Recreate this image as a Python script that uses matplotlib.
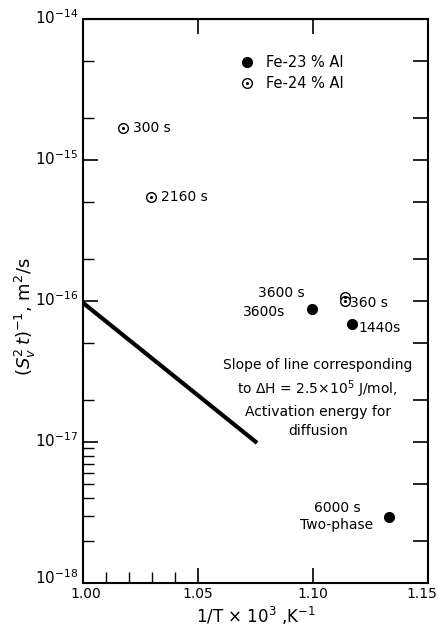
import matplotlib
matplotlib.use('Agg')
import matplotlib.pyplot as plt
import matplotlib.transforms as mtransforms
from matplotlib.lines import Line2D
from matplotlib.legend_handler import HandlerTuple
from matplotlib.ticker import FixedLocator, NullFormatter

# Fe-23 % Al (filled)
fe23_x = [1.0996, 1.1170, 1.1330]
fe23_y = [8.8e-17, 6.9e-17, 2.95e-18]
# Fe-24 % Al (open, dotted centre)
fe24_x = [1.0174, 1.0296, 1.1139, 1.1139]
fe24_y = [1.69e-15, 5.47e-16, 1.07e-16, 1.0e-16]

# activation energy line
line_x = [1.000, 1.0757]
line_y = [9.7e-17, 9.85e-18]

x_ticks = [1.00, 1.05, 1.10, 1.15]
x_tick_labels = ['1.00', '1.05', '1.10', '1.15']
y_ticks = [1e-18, 1e-17, 1e-16, 1e-15, 1e-14]
y_tick_labels = [r'$10^{-18}$', r'$10^{-17}$', r'$10^{-16}$', r'$10^{-15}$', r'$10^{-14}$']

plt.rcParams['font.family'] = ['DejaVu Sans']
plt.rcParams['mathtext.fontset'] = 'dejavusans'

fig = plt.figure(figsize=(4.38, 6.32), dpi=100)
ax = fig.add_axes([0.1895, 0.0775, 0.977 - 0.1895, 0.970 - 0.0775])
ax.set_yscale('log')
ax.set_xlim(1.00, 1.15)
ax.set_ylim(1e-18, 1e-14)

for s in ax.spines.values():
    s.set_linewidth(1.5)

# data
ax.plot(line_x, line_y, color='black', lw=3.0, solid_capstyle='butt')
ax.plot(fe23_x, fe23_y, 'o', color='black', ms=7)
ax.plot(fe24_x, fe24_y, 'o', mfc='white', mec='black', mew=1.0, ms=7)
ax.plot(fe24_x, fe24_y, '.', color='black', ms=2.5)

# point labels
fs = 10
ax.annotate('300 s', (fe24_x[0], fe24_y[0]), xytext=(10, 0), textcoords='offset pixels',
            ha='left', va='center', fontsize=fs)
ax.annotate('2160 s', (fe24_x[1], fe24_y[1]), xytext=(10, 0), textcoords='offset pixels',
            ha='left', va='center', fontsize=fs)
ax.annotate('3600 s', (fe24_x[2], fe24_y[2]), xytext=(-40, 4), textcoords='offset pixels',
            ha='right', va='center', fontsize=fs)
ax.annotate('360 s', (fe24_x[3], fe24_y[3]), xytext=(5, -2), textcoords='offset pixels',
            ha='left', va='center', fontsize=fs)
ax.annotate('3600s', (fe23_x[0], fe23_y[0]), xytext=(-27, -3), textcoords='offset pixels',
            ha='right', va='center', fontsize=fs)
ax.annotate('1440s', (fe23_x[1], fe23_y[1]), xytext=(6, -4), textcoords='offset pixels',
            ha='left', va='center', fontsize=fs)
ax.annotate('6000 s\nTwo-phase', (fe23_x[2], fe23_y[2]), xytext=(-52, 0), textcoords='offset pixels',
            ha='center', va='center', fontsize=fs, linespacing=1.3)

ax.text(0.681, 0.328,
        'Slope of line corresponding\n'
        r'to $\Delta$H = 2.5$\times$10$^5$ J/mol,' '\n'
        'Activation energy for\n'
        'diffusion',
        transform=ax.transAxes, ha='center', va='center', fontsize=fs, linespacing=1.45)

# legend with dotted open circle
h23 = Line2D([], [], ls='none', marker='o', color='black', ms=7)
h24 = (Line2D([], [], ls='none', marker='o', mfc='white', mec='black', mew=1.0, ms=7),
       Line2D([], [], ls='none', marker='.', color='black', ms=2.5))
ax.legend([h23, h24], ['Fe-23 % Al', 'Fe-24 % Al'], handler_map={tuple: HandlerTuple(ndivide=1, pad=0)},
          loc='upper left', bbox_to_anchor=(0.42, 0.96), frameon=False,
          fontsize=10.5, handlelength=0.8, handletextpad=0.9, labelspacing=0.45)

# ticks
ax.set_xticks(x_ticks)
ax.set_xticklabels(x_tick_labels, fontsize=10)
ax.xaxis.set_minor_locator(FixedLocator([1.01, 1.02, 1.03, 1.04]))
ax.set_yticks(y_ticks)
ax.set_yticklabels(y_tick_labels, fontsize=11)
left_minor = [2e-18, 3e-18, 4e-18, 5e-18, 6e-18, 7e-18, 8e-18, 9e-18,
              2e-17, 5e-17, 2e-16, 5e-16, 2e-15, 5e-15]
ax.yaxis.set_minor_locator(FixedLocator(left_minor))
ax.yaxis.set_minor_formatter(NullFormatter())
ax.tick_params(which='major', direction='in', length=11, width=1.2)
ax.tick_params(axis='x', which='major', pad=3)
ax.tick_params(which='minor', direction='in', length=8, width=1.0)

# nudge tick labels after tick_params (which resets label transforms)
def nudge(label, dx, dy):
    off = mtransforms.ScaledTranslation(dx / 100, dy / 100, fig.dpi_scale_trans)
    label.set_transform(label.get_transform() + off)

xt = ax.xaxis.get_major_ticks()
nudge(xt[0].label1, 3, 0)
nudge(xt[-1].label1, -6, 0)
yt = ax.yaxis.get_major_ticks()
for t in yt[1:]:
    nudge(t.label1, 0, 3)
nudge(yt[0].label1, 0, 7)

top = ax.secondary_xaxis('top')
top.set_xticks([1.05, 1.10])
top.set_xticklabels(['', ''])
top.xaxis.set_minor_locator(FixedLocator([]))
top.tick_params(direction='in', length=11, width=1.2)

right = ax.twinx()
right.set_yscale('log')
right.set_ylim(ax.get_ylim())
right.set_yticks(y_ticks)
right.set_yticklabels([])
right.yaxis.set_minor_locator(FixedLocator([2e-18, 5e-18, 2e-17, 5e-17, 2e-16, 5e-16, 2e-15, 5e-15]))
right.yaxis.set_minor_formatter(NullFormatter())
right.tick_params(which='both', direction='in', length=11, width=1.2)
for s in right.spines.values():
    s.set_visible(False)

ax.set_xlabel(r'1/T $\times$ 10$^3$ ,K$^{-1}$', fontsize=12, labelpad=3)
ax.set_ylabel(r'$(S_v^2\,t)^{-1}$, m$^2$/s', fontsize=13)
ax.yaxis.set_label_coords(-0.13, 0.473)

fig.savefig('out.png', dpi=100)
